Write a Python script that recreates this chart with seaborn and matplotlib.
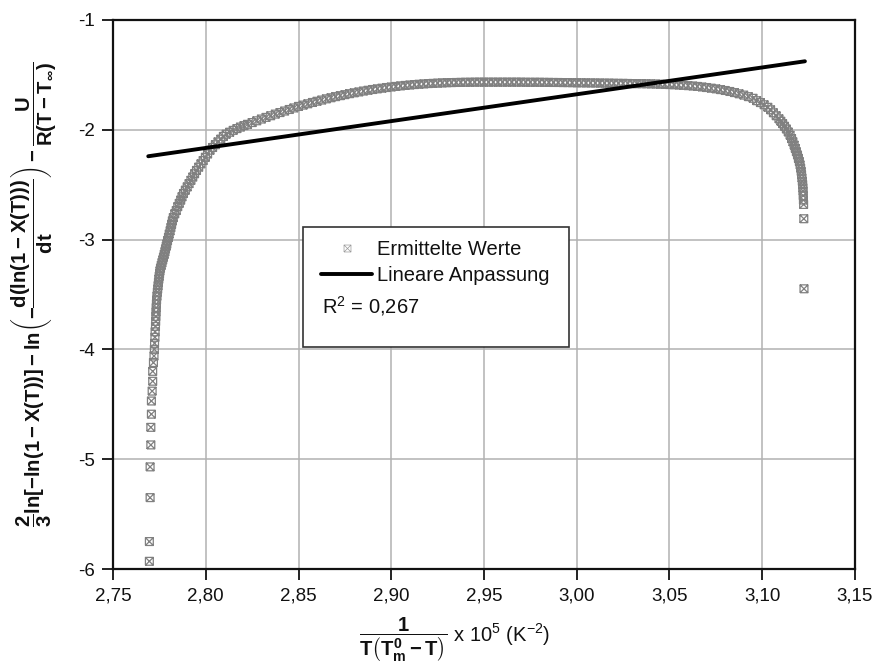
import matplotlib
matplotlib.use("Agg")
import matplotlib.pyplot as plt
from matplotlib.path import Path
from matplotlib.patches import Rectangle
from matplotlib.lines import Line2D
import pandas as pd
import seaborn as sns

# ---------------- data ----------------
rise_x = [2.7696, 2.7696, 2.7700, 2.7700, 2.7704, 2.7704, 2.7707, 2.7707, 2.7711, 2.7714,
          2.7714, 2.7718, 2.7721, 2.7723, 2.7724, 2.7726, 2.7727, 2.7729, 2.7730, 2.7731,
          2.7732, 2.7733, 2.7734, 2.7735, 2.7737, 2.7739, 2.7741, 2.7743, 2.7745, 2.7747,
          2.7749, 2.7751, 2.7753, 2.7756, 2.7760, 2.7764, 2.7768, 2.7772, 2.7776, 2.7780,
          2.7783, 2.7787, 2.7790, 2.7794, 2.7799, 2.7803, 2.7808, 2.7812, 2.7816, 2.7820,
          2.7825, 2.7833, 2.7841, 2.7849, 2.7857, 2.7865, 2.7872, 2.7880, 2.7890, 2.7900,
          2.7910, 2.7920, 2.7930, 2.7940, 2.7950, 2.7962, 2.7974, 2.7986, 2.7998, 2.8010,
          2.8023, 2.8037, 2.8052, 2.8066, 2.8081, 2.8095, 2.8110, 2.8129, 2.8148, 2.8168,
          2.8187, 2.8206, 2.8225]
rise_y = [-5.93, -5.75, -5.35, -5.07, -4.87, -4.71, -4.59, -4.47, -4.38, -4.29,
          -4.20, -4.12, -4.06, -4.00, -3.945, -3.89, -3.84, -3.79, -3.745, -3.70,
          -3.66, -3.62, -3.585, -3.55, -3.515, -3.48, -3.45, -3.42, -3.39, -3.36,
          -3.335, -3.31, -3.285, -3.26, -3.235, -3.21, -3.185, -3.16, -3.135, -3.11,
          -3.085, -3.06, -3.04, -3.01, -2.98, -2.95, -2.92, -2.89, -2.86, -2.83,
          -2.80, -2.765, -2.735, -2.70, -2.67, -2.64, -2.61, -2.58, -2.55, -2.52,
          -2.49, -2.46, -2.43, -2.40, -2.37, -2.34, -2.31, -2.28, -2.25, -2.22,
          -2.186, -2.161, -2.136, -2.110, -2.085, -2.06, -2.040, -2.022, -2.005, -1.989,
          -1.975, -1.962, -1.950]

plateau_x = [2.8250, 2.8275, 2.8300, 2.8325, 2.8350, 2.8375, 2.8400, 2.8425, 2.8450, 2.8475,
             2.8500, 2.8525, 2.8550, 2.8575, 2.8600, 2.8625, 2.8650, 2.8675, 2.8700, 2.8725,
             2.8750, 2.8775, 2.8800, 2.8825, 2.8850, 2.8875, 2.8900, 2.8925, 2.8950, 2.8975,
             2.9000, 2.9025, 2.9050, 2.9075, 2.9100, 2.9125, 2.9150, 2.9175, 2.9200, 2.9225,
             2.9250, 2.9275, 2.9300, 2.9325, 2.9350, 2.9375, 2.9400, 2.9425, 2.9450, 2.9475,
             2.9500, 2.9525, 2.9550, 2.9575, 2.9600, 2.9625, 2.9650, 2.9675, 2.9700, 2.9725,
             2.9750, 2.9775, 2.9800, 2.9825, 2.9850, 2.9875, 2.9900, 2.9925, 2.9950, 2.9975,
             3.0000, 3.0025, 3.0050, 3.0075, 3.0100, 3.0125, 3.0150, 3.0175, 3.0200, 3.0225,
             3.0250, 3.0275, 3.0300, 3.0325, 3.0350, 3.0375, 3.0400, 3.0425, 3.0450, 3.0475,
             3.0500, 3.0525, 3.0550, 3.0575, 3.0600, 3.0625, 3.0650, 3.0675, 3.0700, 3.0725,
             3.0750, 3.0775, 3.0800, 3.0825, 3.0850, 3.0875, 3.0900, 3.0925, 3.0950]
plateau_y = [-1.934, -1.918, -1.902, -1.887, -1.872, -1.857, -1.843, -1.829, -1.815, -1.801,
             -1.787, -1.775, -1.763, -1.751, -1.740, -1.729, -1.718, -1.708, -1.698, -1.689,
             -1.680, -1.671, -1.663, -1.655, -1.647, -1.640, -1.633, -1.627, -1.621, -1.615,
             -1.610, -1.605, -1.600, -1.596, -1.592, -1.588, -1.585, -1.582, -1.579, -1.577,
             -1.575, -1.573, -1.571, -1.570, -1.569, -1.568, -1.567, -1.567, -1.566, -1.566,
             -1.566, -1.566, -1.566, -1.566, -1.566, -1.566, -1.566, -1.566, -1.566, -1.567,
             -1.567, -1.567, -1.567, -1.568, -1.568, -1.569, -1.569, -1.570, -1.570, -1.571,
             -1.572, -1.572, -1.573, -1.573, -1.574, -1.574, -1.575, -1.575, -1.576, -1.577,
             -1.577, -1.578, -1.579, -1.580, -1.580, -1.581, -1.582, -1.583, -1.585, -1.586,
             -1.588, -1.590, -1.592, -1.595, -1.598, -1.601, -1.605, -1.610, -1.615, -1.621,
             -1.627, -1.634, -1.642, -1.651, -1.661, -1.672, -1.684, -1.698, -1.713]

fall_x = [3.0970, 3.0990, 3.1010, 3.1030, 3.1045, 3.1060, 3.1075, 3.1090, 3.1100, 3.1110,
          3.1120, 3.1130, 3.1140, 3.1150, 3.1158, 3.1165, 3.1172, 3.1178, 3.1184, 3.1190,
          3.1195, 3.1200, 3.1204, 3.1207, 3.1210, 3.1212, 3.1214, 3.1216, 3.1218, 3.1219,
          3.1220, 3.1221, 3.1222, 3.1223, 3.1224, 3.1225]
fall_y = [-1.735, -1.752, -1.772, -1.795, -1.818, -1.845, -1.872, -1.900, -1.922, -1.945,
          -1.968, -1.993, -2.020, -2.050, -2.080, -2.110, -2.140, -2.170, -2.200, -2.230,
          -2.260, -2.290, -2.320, -2.350, -2.380, -2.410, -2.440, -2.470, -2.500, -2.530,
          -2.560, -2.600, -2.640, -2.680, -2.810, -3.448]

fit_x = [2.769, 3.123]
fit_y = [-2.241, -1.376]

x_ticks = [2.75, 2.80, 2.85, 2.90, 2.95, 3.00, 3.05, 3.10, 3.15]
x_tick_labels = ["2,75", "2,80", "2,85", "2,90", "2,95", "3,00", "3,05", "3,10", "3,15"]
y_ticks = [-6, -5, -4, -3, -2, -1]
y_tick_labels = ["-6", "-5", "-4", "-3", "-2", "-1"]

series_label = "Ermittelte Werte"
fit_label = "Lineare Anpassung"
r2_label = r"R$^{\mathregular{2}}$ = 0,267"
x_label = (r"$\dfrac{1}{T\left(T_{m}^{0}-T\right)}$"
           r" x 10$^{\mathregular{5}}$ (K$^{\mathregular{-2}}$)")
y_label = (r"$\dfrac{2}{3}ln\left[-ln(1-X(T))\right]-ln\left(-\dfrac{d(ln(1-X(T)))}{dt}\right)"
           r"-\dfrac{U}{R(T-T_{\infty})}$")

# ---------------- style ----------------
sns.set_theme(style="white")
plt.rcParams["font.family"] = ["Liberation Sans", "DejaVu Sans"]
plt.rcParams["mathtext.fontset"] = "custom"
plt.rcParams["mathtext.rm"] = "Liberation Sans:bold"
plt.rcParams["mathtext.it"] = "Liberation Sans:bold"
plt.rcParams["mathtext.bf"] = "Liberation Sans:bold"
plt.rcParams["mathtext.sf"] = "Liberation Sans:bold"

df = pd.DataFrame({"x": rise_x + plateau_x + fall_x,
                   "y": rise_y + plateau_y + fall_y})

box_x_marker = Path(
    [(-1, -1), (1, -1), (1, 1), (-1, 1), (-1, -1), (-1, -1), (1, 1), (-1, 1), (1, -1)],
    [Path.MOVETO, Path.LINETO, Path.LINETO, Path.LINETO, Path.LINETO,
     Path.MOVETO, Path.LINETO, Path.MOVETO, Path.LINETO])

fig = plt.figure(figsize=(8.77, 6.68), dpi=100)
ax = fig.add_axes([113 / 877, 99 / 668, 742 / 877, 549 / 668])

sns.scatterplot(data=df, x="x", y="y", ax=ax, marker=box_x_marker, s=32,
                color="#808080", facecolor="none", edgecolor="#808080",
                linewidth=0.9, zorder=3, legend=False)
sns.lineplot(x=fit_x, y=fit_y, ax=ax, color="black", linewidth=2.8,
             solid_capstyle="round", zorder=4, legend=False)

ax.set_xlim(2.75, 3.15)
ax.set_ylim(-6, -1)
ax.set_xticks(x_ticks)
ax.set_xticklabels(x_tick_labels)
ax.set_yticks(y_ticks)
ax.set_yticklabels(y_tick_labels)
ax.grid(True, color="#b2b2b2", linewidth=1.1)
ax.set_axisbelow(True)
for sp in ax.spines.values():
    sp.set_color("#111111")
    sp.set_linewidth(1.6)
ax.tick_params(axis="both", direction="out", length=8, width=1.3, color="#111111",
               labelsize=13.5, labelcolor="#111111", bottom=True, left=True, pad=5)

ax.set_xlabel(x_label, fontsize=14.5, color="#111111")
ax.xaxis.set_label_coords((455 - 113) / 742, (569 - 616) / 549)
ax.set_ylabel(y_label, fontsize=14.6, color="#111111")
ax.yaxis.set_label_coords((58 - 113) / 742, 0.5)

# legend box
ax.add_patch(Rectangle((0.2561, 0.4051), 0.3585, 0.2172, transform=ax.transAxes,
                       facecolor="white", edgecolor="#333333", linewidth=1.2, zorder=5))
handles = [Line2D([], [], linestyle="none", marker=box_x_marker, markersize=5,
                  markerfacecolor="none", markeredgecolor="#9a9a9a", markeredgewidth=0.5),
           Line2D([], [], color="black", linewidth=2.8, solid_capstyle="round")]
leg = ax.legend(handles, [series_label, fit_label], loc="upper left",
                bbox_to_anchor=((321 - 113) / 742, (569 - 240) / 549), frameon=False,
                fontsize=14.5, handlelength=2.54, handletextpad=0.25, labelspacing=0.33,
                borderpad=0.0, borderaxespad=0.0)
leg.set_zorder(6)
for t in leg.get_texts():
    t.set_color("#111111")
ax.text((322 - 113) / 742, (569 - 306) / 549, r2_label, transform=ax.transAxes,
        fontsize=14.5, ha="left", va="center", color="#111111", zorder=7)

fig.savefig("out.png", dpi=100)
